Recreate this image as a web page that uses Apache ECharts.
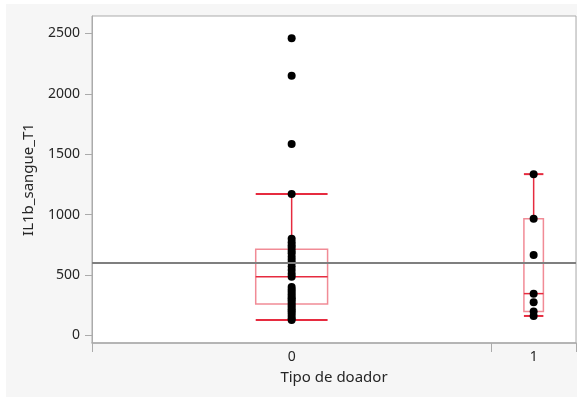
<!DOCTYPE html>
<html>
<head>
<meta charset="utf-8">
<script src="https://cdn.jsdelivr.net/npm/echarts@6/dist/echarts.min.js"></script>
<style>
  html, body { margin: 0; padding: 0; background: #fff; }
  #chart { width: 577px; height: 401px; }
</style>
</head>
<body>
<div id="chart"></div>
<script>
  // data
  const groups = ['0', '1'];
  const donor0 = [127, 140, 160, 180, 200, 215, 235, 250, 270, 290, 305, 320, 340, 360, 380, 400,
    485, 510, 540, 570, 600, 625, 650, 680, 700, 725, 745, 770, 800, 1170, 1585, 2150, 2460];
  const donor1 = [160, 196, 273, 345, 665, 965, 1335];
  const yTicks = [0, 500, 1000, 1500, 2000, 2500];

  const font = '"Noto Sans", "Open Sans", sans-serif';
  const textColor = '#262626';
  const axisGray = '#ababab';
  const boxFrac = [0.18, 0.23];

  // JMP style quantile, (n + 1) * p
  function quantile(sorted, p) {
    const n = sorted.length;
    const pos = (n + 1) * p;
    const lo = Math.floor(pos);
    if (lo < 1) return sorted[0];
    if (lo >= n) return sorted[n - 1];
    return sorted[lo - 1] + (pos - lo) * (sorted[lo] - sorted[lo - 1]);
  }

  const all = [donor0, donor1];
  let start = 0;
  const boxes = [];
  const points = [];
  const bounds = [0];
  all.forEach(vals => {
    const s = vals.slice().sort((a, b) => a - b);
    const n = s.length;
    const cx = start + n / 2;
    const q1 = quantile(s, 0.25);
    const med = quantile(s, 0.5);
    const q3 = quantile(s, 0.75);
    const iqr = q3 - q1;
    const lo = s.find(v => v >= q1 - 1.5 * iqr);
    const hi = s.filter(v => v <= q3 + 1.5 * iqr).pop();
    boxes.push([cx, q1, med, q3, lo, hi, n]);
    vals.forEach(v => points.push([cx, v]));
    start += n;
    bounds.push(start);
  });
  const total = start;
  const centers = boxes.map(b => b[0]);
  const mean = points.reduce((a, p) => a + p[1], 0) / points.length;

  const chart = echarts.init(document.getElementById('chart'));

  const red = '#e62b3f';
  const pink = 'rgba(230, 43, 63, 0.55)';

  function renderBox(params, api) {
    const g = params.dataIndex;
    const cx = api.value(0);
    const band = api.size([api.value(6), 0])[0];
    const half = band * boxFrac[g] / 2;
    const c = px => api.coord([cx, px]);
    const pQ1 = c(api.value(1)), pMed = c(api.value(2)), pQ3 = c(api.value(3));
    const pLo = c(api.value(4)), pHi = c(api.value(5));
    const x = pQ1[0];
    const line = (x1, y1, x2, y2, color, w) => ({
      type: 'line',
      shape: {x1, y1, x2, y2},
      style: {stroke: color, lineWidth: w}
    });
    return {
      type: 'group',
      children: [
        {
          type: 'rect',
          shape: {x: x - half, y: pQ3[1], width: half * 2, height: pQ1[1] - pQ3[1]},
          style: {fill: 'none', stroke: pink, lineWidth: 1.5}
        },
        line(x - half, pMed[1], x + half, pMed[1], red, 1.5),
        line(x, pQ3[1], x, pHi[1], red, 1.5),
        line(x, pQ1[1], x, pLo[1], red, 1.5),
        line(x - half, pHi[1], x + half, pHi[1], red, 2),
        line(x - half, pLo[1], x + half, pLo[1], red, 2)
      ]
    };
  }

  const option = {
    animation: false,
    backgroundColor: '#fff',
    graphic: {
      elements: [{
        type: 'rect',
        z: -100,
        silent: true,
        shape: {x: 6, y: 4, width: 571, height: 393},
        style: {fill: '#f6f6f6'}
      }]
    },
    grid: {
      left: 92,
      right: 1,
      top: 16,
      bottom: 58,
      show: true,
      backgroundColor: '#fff',
      borderColor: axisGray,
      borderWidth: 1
    },
    xAxis: {
      type: 'value',
      min: 0,
      max: total,
      name: 'Tipo de doador',
      nameLocation: 'middle',
      nameGap: 27,
      nameTextStyle: {fontFamily: font, fontSize: 15, color: textColor},
      splitLine: {show: false},
      axisLine: {show: true, onZero: false, lineStyle: {color: axisGray, width: 1.5}},
      axisTick: {show: true, customValues: bounds, length: 9, lineStyle: {color: axisGray}},
      axisLabel: {
        customValues: centers,
        margin: 7,
        fontFamily: font,
        fontSize: 14,
        color: textColor,
        formatter: v => groups[centers.indexOf(v)]
      }
    },
    yAxis: {
      type: 'value',
      min: -64,
      max: 2645,
      name: 'IL1b_sangue_T1',
      nameLocation: 'middle',
      nameGap: 56,
      nameTextStyle: {fontFamily: font, fontSize: 15, color: textColor},
      splitLine: {show: false},
      axisLine: {show: true, onZero: false, lineStyle: {color: axisGray}},
      axisTick: {show: true, customValues: yTicks, length: 7, lineStyle: {color: axisGray}},
      axisLabel: {
        customValues: yTicks,
        margin: 12,
        fontFamily: font,
        fontSize: 14,
        color: textColor,
        formatter: v => String(v)
      }
    },
    series: [
      {
        type: 'custom',
        renderItem: renderBox,
        data: boxes,
        z: 2,
        markLine: {
          silent: true,
          symbol: 'none',
          label: {show: false},
          lineStyle: {color: '#7f7f7f', width: 2, type: 'solid'},
          data: [{yAxis: mean}]
        }
      },
      {
        type: 'scatter',
        data: points,
        symbolSize: 8,
        itemStyle: {color: '#000', opacity: 1},
        z: 3
      }
    ]
  };

  chart.setOption(option);
</script>
</body>
</html>
